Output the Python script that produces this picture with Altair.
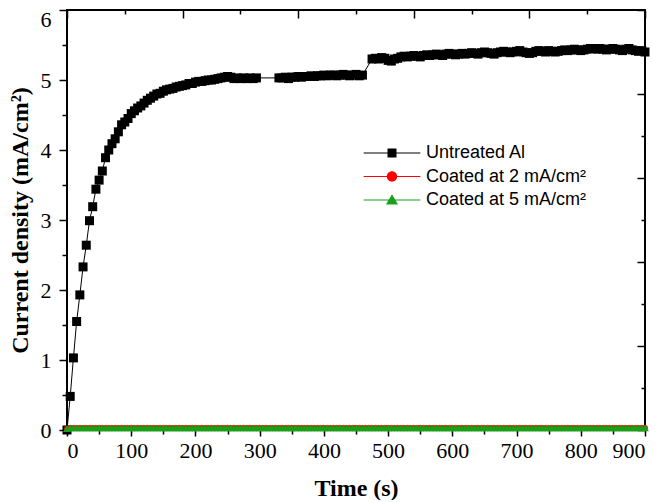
import altair as alt
import pandas as pd

# ---------------- data ----------------
series_names = ["Untreated Al", "Coated at 2 mA/cm²", "Coated at 5 mA/cm²"]

untreated_t = list(range(0, 300, 5)) + list(range(330, 465, 5)) + list(range(475, 905, 5))
untreated_v = [
    0.00, 0.48, 1.03, 1.55, 1.93, 2.33, 2.64, 2.99, 3.19, 3.44,
    3.57, 3.70, 3.89, 4.00, 4.09, 4.16, 4.26, 4.36, 4.40, 4.45,
    4.52, 4.56, 4.60, 4.63, 4.67, 4.71, 4.74, 4.77, 4.80, 4.81,
    4.84, 4.86, 4.87, 4.88, 4.90, 4.91, 4.92, 4.93, 4.95, 4.95,
    4.97, 4.98, 4.98, 4.99, 5.00, 5.00, 5.01, 5.02, 5.03, 5.04,
    5.05, 5.04, 5.02, 5.03, 5.02, 5.03, 5.02, 5.03, 5.02, 5.03,
    5.03, 5.03, 5.04, 5.02, 5.04, 5.04, 5.05, 5.04, 5.05, 5.05,
    5.06, 5.05, 5.06, 5.06, 5.07, 5.06, 5.07, 5.07, 5.06, 5.07,
    5.08, 5.07, 5.06, 5.07, 5.08, 5.06, 5.07,
    5.30, 5.31, 5.30, 5.32, 5.31, 5.28, 5.27, 5.30, 5.31, 5.33,
    5.34, 5.33, 5.34, 5.35, 5.34, 5.33, 5.35, 5.36, 5.35, 5.36,
    5.37, 5.36, 5.35, 5.37, 5.38, 5.37, 5.36, 5.37, 5.38, 5.37,
    5.38, 5.39, 5.38, 5.37, 5.39, 5.40, 5.39, 5.38, 5.37, 5.39,
    5.40, 5.41, 5.40, 5.39, 5.40, 5.41, 5.42, 5.40, 5.39, 5.38,
    5.39, 5.41, 5.42, 5.41, 5.40, 5.42, 5.41, 5.40, 5.41, 5.42,
    5.43, 5.42, 5.43, 5.44, 5.43, 5.42, 5.43, 5.44, 5.45, 5.45,
    5.44, 5.45, 5.44, 5.43, 5.44, 5.45, 5.44, 5.43, 5.42, 5.44,
    5.45, 5.43, 5.42, 5.41, 5.42, 5.40,
]

coated_t = list(range(0, 905, 5))
coated2_v = [
    0.02, 0.03, 0.03, 0.03, 0.03, 0.03, 0.03, 0.03, 0.03, 0.03, 0.03, 0.03, 0.03, 0.03, 0.03, 0.03, 0.03, 0.03, 0.03, 0.03,
    0.03, 0.03, 0.03, 0.03, 0.03, 0.03, 0.03, 0.03, 0.03, 0.03, 0.03, 0.03, 0.03, 0.03, 0.03, 0.03, 0.03, 0.03, 0.03, 0.03,
    0.03, 0.03, 0.03, 0.03, 0.03, 0.03, 0.03, 0.03, 0.03, 0.03, 0.03, 0.03, 0.03, 0.03, 0.03, 0.03, 0.03, 0.03, 0.03, 0.03,
    0.03, 0.03, 0.03, 0.03, 0.03, 0.03, 0.03, 0.03, 0.03, 0.03, 0.03, 0.03, 0.03, 0.03, 0.03, 0.03, 0.03, 0.03, 0.03, 0.03,
    0.03, 0.03, 0.03, 0.03, 0.03, 0.03, 0.03, 0.03, 0.03, 0.03, 0.03, 0.03, 0.03, 0.03, 0.03, 0.03, 0.03, 0.03, 0.03, 0.03,
    0.03, 0.03, 0.03, 0.03, 0.03, 0.03, 0.03, 0.03, 0.03, 0.03, 0.03, 0.03, 0.03, 0.03, 0.03, 0.03, 0.03, 0.03, 0.03, 0.03,
    0.03, 0.03, 0.03, 0.03, 0.03, 0.03, 0.03, 0.03, 0.03, 0.03, 0.03, 0.03, 0.03, 0.03, 0.03, 0.03, 0.03, 0.03, 0.03, 0.03,
    0.03, 0.03, 0.03, 0.03, 0.03, 0.03, 0.03, 0.03, 0.03, 0.03, 0.03, 0.03, 0.03, 0.03, 0.03, 0.03, 0.03, 0.03, 0.03, 0.03,
    0.03, 0.03, 0.03, 0.03, 0.03, 0.03, 0.03, 0.03, 0.03, 0.03, 0.03, 0.03, 0.03, 0.03, 0.03, 0.03, 0.03, 0.03, 0.03, 0.03,
    0.03,
]
coated5_v = [
    0.02, 0.03, 0.03, 0.03, 0.03, 0.03, 0.03, 0.03, 0.03, 0.03, 0.03, 0.03, 0.03, 0.03, 0.03, 0.03, 0.03, 0.03, 0.03, 0.03,
    0.03, 0.03, 0.03, 0.03, 0.03, 0.03, 0.03, 0.03, 0.03, 0.03, 0.03, 0.03, 0.03, 0.03, 0.03, 0.03, 0.03, 0.03, 0.03, 0.03,
    0.03, 0.03, 0.03, 0.03, 0.03, 0.03, 0.03, 0.03, 0.03, 0.03, 0.03, 0.03, 0.03, 0.03, 0.03, 0.03, 0.03, 0.03, 0.03, 0.03,
    0.03, 0.03, 0.03, 0.03, 0.03, 0.03, 0.03, 0.03, 0.03, 0.03, 0.03, 0.03, 0.03, 0.03, 0.03, 0.03, 0.03, 0.03, 0.03, 0.03,
    0.03, 0.03, 0.03, 0.03, 0.03, 0.03, 0.03, 0.03, 0.03, 0.03, 0.03, 0.03, 0.03, 0.03, 0.03, 0.03, 0.03, 0.03, 0.03, 0.03,
    0.03, 0.03, 0.03, 0.03, 0.03, 0.03, 0.03, 0.03, 0.03, 0.03, 0.03, 0.03, 0.03, 0.03, 0.03, 0.03, 0.03, 0.03, 0.03, 0.03,
    0.03, 0.03, 0.03, 0.03, 0.03, 0.03, 0.03, 0.03, 0.03, 0.03, 0.03, 0.03, 0.03, 0.03, 0.03, 0.03, 0.03, 0.03, 0.03, 0.03,
    0.03, 0.03, 0.03, 0.03, 0.03, 0.03, 0.03, 0.03, 0.03, 0.03, 0.03, 0.03, 0.03, 0.03, 0.03, 0.03, 0.03, 0.03, 0.03, 0.03,
    0.03, 0.03, 0.03, 0.03, 0.03, 0.03, 0.03, 0.03, 0.03, 0.03, 0.03, 0.03, 0.03, 0.03, 0.03, 0.03, 0.03, 0.03, 0.03, 0.03,
    0.03,
]

x_major = [0, 100, 200, 300, 400, 500, 600, 700, 800, 900]
x_minor = [50, 150, 250, 350, 450, 550, 650, 750, 850]
y_major = [0, 1, 2, 3, 4, 5, 6]
y_minor = [0.5, 1.5, 2.5, 3.5, 4.5, 5.5]
top_long = [0, 180, 360, 540, 720, 900]
top_short = [90, 270, 450, 630, 810]
right_long = [0, 1.2, 2.4, 3.6, 4.8, 6]
right_short = [0.6, 1.8, 3.0, 4.2, 5.4]

series_colors = ["#000000", "#ff0000", "#1aa01a"]

frames = [
    pd.DataFrame({"time": untreated_t, "value": untreated_v, "series": series_names[0]}),
    pd.DataFrame({"time": coated_t, "value": coated2_v, "series": series_names[1]}),
    pd.DataFrame({"time": coated_t, "value": coated5_v, "series": series_names[2]}),
]
df = pd.concat(frames, ignore_index=True)

# ---------------- chart ----------------
xs = alt.Scale(domain=[0, 900], nice=False, zero=False)
ys = alt.Scale(domain=[0, 6], nice=False, zero=False)

SERIF = "Liberation Serif"


def X(axis):
    return alt.X("time:Q", scale=xs, axis=axis)


def Y(axis):
    return alt.Y("value:Q", scale=ys, axis=axis)


ax_bottom = alt.Axis(orient="bottom", values=x_major, tickSize=6, labelPadding=4,
                     title="Time (s)", titleY=58, titleBaseline="middle")
ax_bottom_minor = alt.Axis(orient="bottom", values=x_minor, tickSize=4, labels=False, title=None)
ax_left = alt.Axis(orient="left", values=y_major, tickSize=8, labelPadding=8,
                   labelOffset={"condition": {"test": "datum.value === 6", "value": 9}, "value": 0},
                   title="Current density (mA/cm²)", titleX=-47, titleBaseline="middle")
ax_left_minor = alt.Axis(orient="left", values=y_minor, tickSize=5, labels=False, title=None)
ax_top_long = alt.Axis(orient="top", values=top_long, tickSize=8, offset=-8, labels=False, title=None)
ax_top_short = alt.Axis(orient="top", values=top_short, tickSize=4, offset=-4, labels=False, title=None)
ax_right_long = alt.Axis(orient="right", values=right_long, tickSize=8, offset=-8, labels=False, title=None)
ax_right_short = alt.Axis(orient="right", values=right_short, tickSize=4, offset=-4, labels=False, title=None)

base = alt.Chart(df)

line_u = base.transform_filter(alt.datum.series == series_names[0]).mark_line(
    color="#000000", strokeWidth=1).encode(x=X(ax_bottom), y=Y(ax_left))
pts_u = base.transform_filter(alt.datum.series == series_names[0]).mark_point(
    shape="square", filled=True, color="#000000", size=81, opacity=1).encode(
    x=X(ax_bottom_minor), y=Y(ax_left_minor))
line_r = base.transform_filter(alt.datum.series == series_names[1]).mark_line(
    color=series_colors[1], strokeWidth=1).encode(x=X(None), y=Y(None))
pts_r = base.transform_filter(alt.datum.series == series_names[1]).mark_point(
    shape="circle", filled=True, color=series_colors[1], size=34, opacity=1).encode(
    x=X(ax_top_long), y=Y(ax_right_long))
line_g = base.transform_filter(alt.datum.series == series_names[2]).mark_line(
    color=series_colors[2], strokeWidth=1).encode(x=X(None), y=Y(None))
pts_g = base.transform_filter(alt.datum.series == series_names[2]).mark_point(
    shape="triangle-up", filled=True, color=series_colors[2], size=60, opacity=1).encode(
    x=X(ax_top_short), y=Y(ax_right_short))

# legend symbols: a thin line with the marker in its middle
leg_paths = [
    "M-6.3,-0.12H6.3V0.12H-6.3Z M-1,-1H1V1H-1Z",
    "M-6.3,-0.12H6.3V0.12H-6.3Z M1.15,0A1.15,1.15,0,1,1,-1.15,0A1.15,1.15,0,1,1,1.15,0Z",
    "M-6.3,-0.12H6.3V0.12H-6.3Z M0,-1.3L1.35,1L-1.35,1Z",
]
legend = alt.Legend(orient="none", legendX=316, legendY=134, title=None,
                    labelFont="Liberation Sans", labelFontSize=18, labelColor="#000000",
                    labelLimit=400,
                    symbolSize=81, labelOffset=25, rowPadding=5.5, padding=0,
                    symbolOffset=0, symbolStrokeWidth=0, symbolOpacity=1)
ghost = base.transform_filter("false").mark_point(filled=True, size=81).encode(
    x=X(None), y=Y(None),
    color=alt.Color("series:N", scale=alt.Scale(domain=series_names, range=series_colors), legend=legend),
    shape=alt.Shape("series:N", scale=alt.Scale(domain=series_names, range=leg_paths), legend=legend),
)

chart = alt.layer(line_u, pts_u, line_r, pts_r, line_g, pts_g, ghost).resolve_axis(
    x="independent", y="independent"
).properties(
    width=578, height=420, autosize="none",
    padding={"left": 59, "top": 2, "right": 12, "bottom": 70},
).configure_view(
    stroke="#000000", strokeWidth=2
).configure_axis(
    domain=False, grid=False, tickColor="#000000", tickWidth=1.5,
    labelFont=SERIF, labelFontSize=22, labelColor="#000000",
    titleFont=SERIF, titleFontSize=24, titleFontWeight="bold", titleColor="#000000",
)

chart.save("out.html", embed_options={"renderer": "svg", "actions": False})
